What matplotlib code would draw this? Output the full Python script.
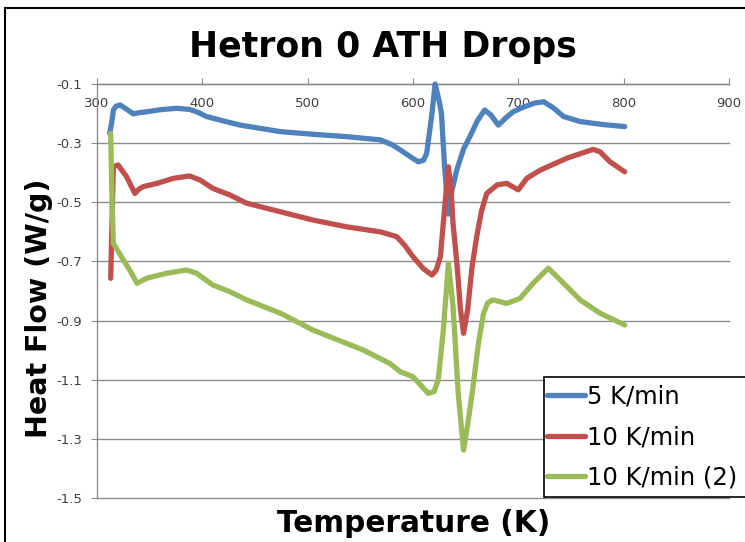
import matplotlib.pyplot as plt
from matplotlib.patches import Rectangle

plt.rcParams['font.family'] = ['DejaVu Sans']

# 5 K/min
t_blue = [312, 314, 315.5, 318, 322, 328, 334.5, 340, 347, 360, 375.7, 388, 396, 404, 420, 436, 455,
          474, 505, 537, 569, 580, 588, 597, 605, 610, 613, 618, 621, 623, 625, 627, 630, 633.5,
          637, 641.5, 648, 654, 661, 668, 674, 681, 688, 695, 705, 715, 724, 733, 743, 758.6, 780, 801]
hf_blue = [-0.267, -0.23, -0.188, -0.175, -0.171, -0.185, -0.201, -0.197, -0.194, -0.187, -0.182, -0.186,
           -0.196, -0.21, -0.225, -0.239, -0.25, -0.261, -0.27, -0.278, -0.289, -0.305, -0.323, -0.345,
           -0.363, -0.358, -0.334, -0.2, -0.1, -0.13, -0.16, -0.2, -0.38, -0.54, -0.46, -0.391, -0.32,
           -0.278, -0.225, -0.188, -0.205, -0.239, -0.215, -0.194, -0.178, -0.165, -0.16, -0.18, -0.21,
           -0.227, -0.237, -0.244]

# 10 K/min
t_red = [313, 314, 315.5, 320, 328, 336, 340, 344, 357, 372.5, 388, 398, 410, 426, 442, 474, 505, 537,
         569, 584.5, 592, 600, 610, 618, 622, 626, 630, 633.6, 636, 638, 642, 645, 648, 652, 656,
         660.5, 665, 670, 680, 689, 700, 708, 721, 746, 771, 777.5, 787, 801]
hf_red = [-0.757, -0.6, -0.38, -0.374, -0.413, -0.47, -0.455, -0.447, -0.436, -0.419, -0.411, -0.425,
          -0.453, -0.475, -0.503, -0.532, -0.56, -0.583, -0.6, -0.616, -0.645, -0.684, -0.725, -0.746,
          -0.73, -0.684, -0.52, -0.38, -0.45, -0.571, -0.72, -0.86, -0.943, -0.86, -0.72, -0.616,
          -0.53, -0.47, -0.441, -0.436, -0.458, -0.419, -0.391, -0.351, -0.321, -0.329, -0.363, -0.397]

# 10 K/min (2)
t_green = [313, 314, 315.5, 325, 332, 338, 347, 366, 385, 394.6, 410, 426, 442, 474, 505, 553, 578,
           588, 600, 614.5, 620, 624, 628.8, 633.6, 638, 643, 648, 652, 657, 662, 667, 671, 676, 689,
           701.6, 714, 728.5, 740, 758.6, 777.5, 801]
hf_green = [-0.267, -0.45, -0.639, -0.695, -0.735, -0.774, -0.757, -0.74, -0.729, -0.74, -0.78, -0.802,
            -0.83, -0.875, -0.932, -1.0, -1.045, -1.073, -1.09, -1.146, -1.14, -1.1, -0.932, -0.706,
            -0.853, -1.15, -1.338, -1.25, -1.124, -0.98, -0.875, -0.84, -0.83, -0.842, -0.825, -0.774,
            -0.723, -0.763, -0.83, -0.875, -0.915]

series = [('5 K/min', t_blue, hf_blue, '#4F81BD'),
          ('10 K/min', t_red, hf_red, '#C0504D'),
          ('10 K/min (2)', t_green, hf_green, '#9BBB59')]

W, H = 745, 542
fig = plt.figure(figsize=(W / 100, H / 100), dpi=100)
ax = fig.add_axes([97 / W, 1 - 498 / H, (729 - 97) / W, (498 - 84) / H])

for name, t, hf, c in series:
    ax.plot(t, hf, color=c, lw=3.8, label=name, solid_joinstyle='round',
            solid_capstyle='round', clip_on=False, zorder=3)

ax.set_xlim(300, 900)
ax.set_ylim(-1.5, -0.1)
ax.set_xticks(range(300, 901, 100))
ax.set_yticks([-1.5, -1.3, -1.1, -0.9, -0.7, -0.5, -0.3, -0.1])
ax.set_yticklabels(['-1.5', '-1.3', '-1.1', '-0.9', '-0.7', '-0.5', '-0.3', '-0.1'])
ax.yaxis.grid(True, color='#8c8c8c', lw=1)
ax.set_axisbelow(True)
for gl in ax.get_ygridlines():
    gl.set_clip_on(False)

for s in ['right', 'bottom']:
    ax.spines[s].set_visible(False)
for s in ['left', 'top']:
    ax.spines[s].set_color('#8c8c8c')
    ax.spines[s].set_linewidth(1)

ax.tick_params(axis='x', top=True, bottom=False, labeltop=True, labelbottom=False,
               direction='out', length=4, color='#8c8c8c', pad=-22.5, labelsize=9.5,
               labelcolor='#404040')
ax.tick_params(axis='y', direction='out', length=4, color='#8c8c8c', labelsize=9.5, pad=6.5,
               labelcolor='#404040')

fig.text(382.5 / W, 1 - 57 / H, 'Hetron 0 ATH Drops', ha='center', va='baseline',
         fontsize=25, fontweight='bold')
fig.text(47 / W, 1 - 308.5 / H, 'Heat Flow (W/g)', ha='center', va='baseline',
         rotation=90, rotation_mode='anchor', fontsize=20.5, fontweight='bold')
fig.text(413.5 / W, 1 - 532 / H, 'Temperature (K)', ha='center', va='baseline',
         fontsize=21.3, fontweight='bold')

# legend frame runs off the right edge, as in the original
fig.patches.append(Rectangle((544 / W, 1 - 497 / H), 0.4, 120 / H, transform=fig.transFigure,
                             facecolor='white', edgecolor='black', lw=1.2, zorder=4))
leg = fig.legend(loc='upper left', bbox_to_anchor=(547 / W, 1 - 385 / H),
                 fontsize=17.5, frameon=False, handlelength=1.56,
                 handletextpad=0.08, borderpad=0, labelspacing=0.67, borderaxespad=0)
leg.set_zorder(5)

fig.patches.append(Rectangle((5 / W, -0.1), 1.2, 1.1 - 8 / H, transform=fig.transFigure,
                             fill=False, edgecolor='black', lw=1.5))

fig.savefig('out.png', dpi=100)
